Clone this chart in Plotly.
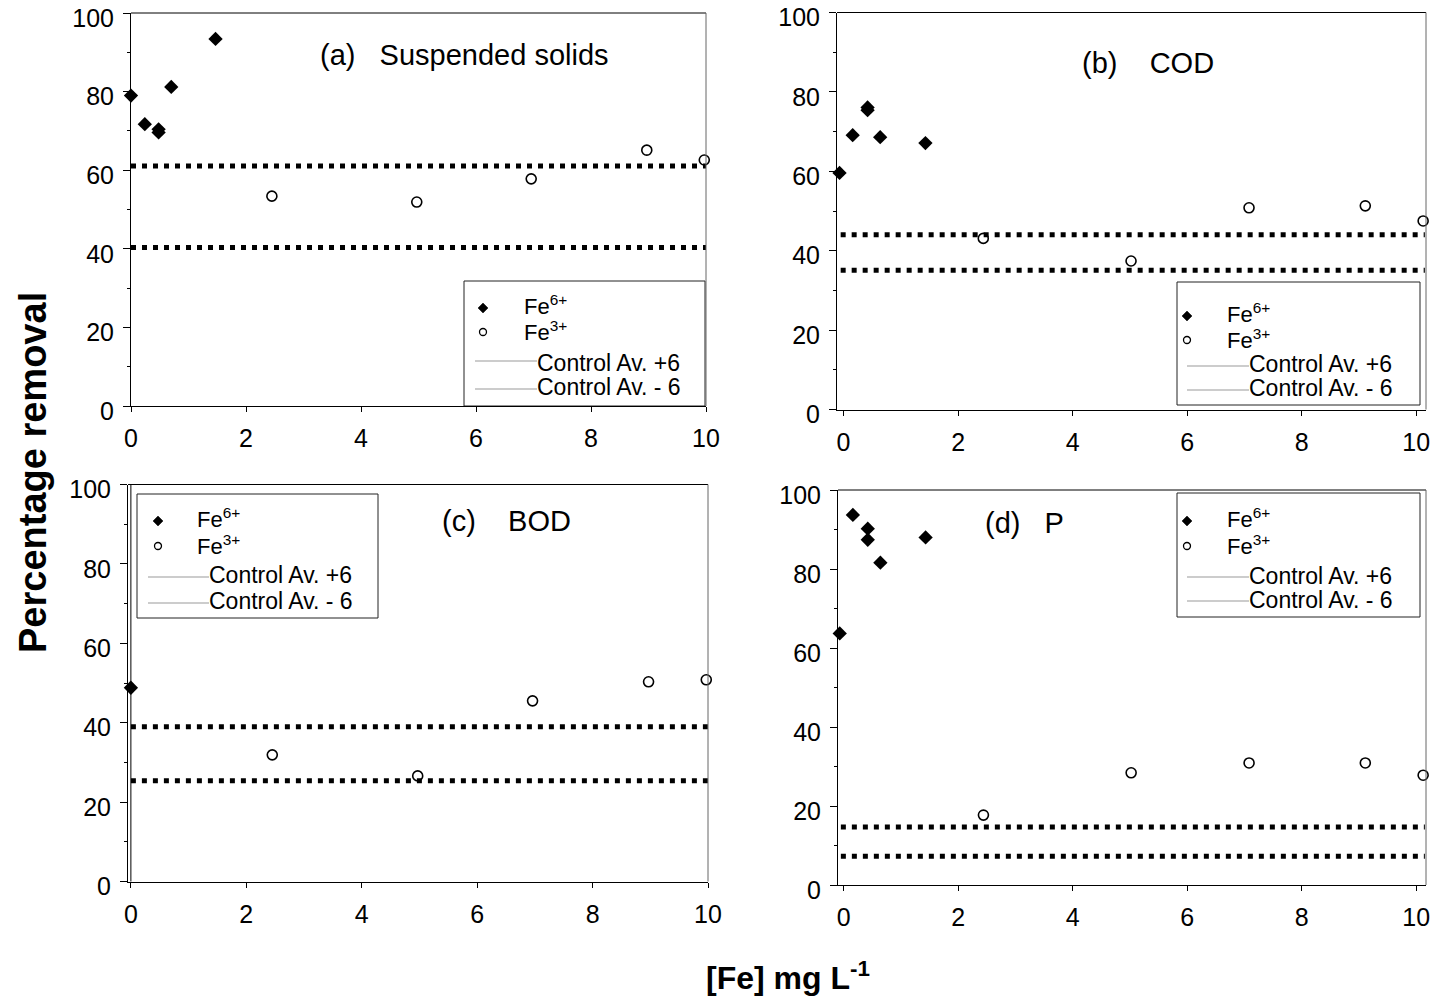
import plotly.graph_objects as go

W, H = 1433, 997
FONT = "Liberation Sans, Arial, Helvetica, sans-serif"

# ---------------- data ----------------
# x positions as read on panels (a),(c) and on panels (b),(d)
fe6_x_ac = [0, 0.24, 0.48, 0.48, 0.7, 1.47]
fe3_x_ac = [2.45, 4.97, 6.96, 8.97, 9.97]
fe6_x_bd = [-0.07, 0.16, 0.42, 0.42, 0.64, 1.43]
fe3_x_bd = [2.44, 5.02, 7.08, 9.11, 10.12]
ctrl_x_ac = [0, 10]
ctrl_x_bd = [-0.05, 10.15]

ss_fe6 = [79.0, 71.7, 70.4, 69.6, 81.2, 93.4]
ss_fe3 = [53.4, 51.9, 57.8, 65.1, 62.6]
ss_ctrl = [61.1, 40.3]

cod_fe6 = [59.6, 69.1, 76.1, 75.4, 68.6, 67.1]
cod_fe3 = [43.1, 37.4, 50.8, 51.3, 47.5]
cod_ctrl = [44.0, 35.1]

bod_fe6 = [48.8, None, None, None, None, None]
bod_fe3 = [31.9, 26.6, 45.5, 50.3, 50.8]
bod_ctrl = [39.0, 25.4]

p_fe6 = [63.7, 93.7, 90.2, 87.4, 81.6, 88.0]
p_fe3 = [17.7, 28.4, 30.9, 30.9, 27.8]
p_ctrl = [14.7, 7.3]

panel_titles = ["(a)\u00a0\u00a0\u00a0Suspended solids", "(b)\u00a0\u00a0\u00a0\u00a0COD",
                "(c)\u00a0\u00a0\u00a0\u00a0BOD", "(d)\u00a0\u00a0\u00a0P"]
legend_labels = ["Fe<sup>6+</sup>", "Fe<sup>3+</sup>", "Control Av. +6", "Control Av. - 6"]
x_ticks = [0, 2, 4, 6, 8, 10]
y_ticks = [0, 20, 40, 60, 80, 100]

series = [
    (fe6_x_ac, ss_fe6, fe3_x_ac, ss_fe3, ctrl_x_ac, ss_ctrl),
    (fe6_x_bd, cod_fe6, fe3_x_bd, cod_fe3, ctrl_x_bd, cod_ctrl),
    (fe6_x_ac, bod_fe6, fe3_x_ac, bod_fe3, ctrl_x_ac, bod_ctrl),
    (fe6_x_bd, p_fe6, fe3_x_bd, p_fe3, ctrl_x_bd, p_ctrl),
]

# ---------------- layout helpers (pixel -> paper) ----------------
def px(x):
    return x / W

def py(y):
    return 1 - y / H

# plot-area boxes in pixels: (left, right, top, bottom)
boxes = [(131, 706, 13, 406), (837, 1426, 12.5, 409.5),
         (128, 708, 484.5, 881.5), (838, 1426, 490, 885)]
xranges = [[0, 10], [-0.114, 10.17], [-0.05, 10], [-0.1, 10.17]]

fig = go.Figure()
layout = dict(
    width=W, height=H, margin=dict(l=0, r=0, t=0, b=0, autoexpand=False),
    paper_bgcolor="white", plot_bgcolor="white", showlegend=False,
    font=dict(family=FONT, color="black"),
)
shapes = []
annotations = []

for i, (x6, fe6, x3, fe3, cx_, ctrl) in enumerate(series):
    n = "" if i == 0 else str(i + 1)
    xa, ya = "x" + n, "y" + n
    l, r, t, b = boxes[i]
    layout["xaxis" + n] = dict(
        domain=[px(l), px(r)], range=xranges[i], anchor=ya,
        tickvals=x_ticks, ticks="outside", ticklen=5, tickcolor="black",
        showline=True, linecolor="black", linewidth=1, showgrid=False, zeroline=False,
        tickfont=dict(size=25, family=FONT), ticklabelstandoff=5,
        ticklabeloverflow="allow",
    )
    layout["yaxis" + n] = dict(
        domain=[py(b), py(t)], range=[0, 100], anchor=xa,
        tickvals=y_ticks, ticks="outside", ticklen=7, tickcolor="black",
        minor=dict(dtick=10, ticks="outside", ticklen=3, tickcolor="black"),
        showline=True, linecolor="black", linewidth=1, showgrid=False, zeroline=False,
        tickfont=dict(size=25, family=FONT), ticklabelstandoff=4,
        ticklabeloverflow="allow", ticklabelshift=5,
    )
    # top/right frame
    shapes.append(dict(type="line", xref=xa + " domain", yref=ya + " domain",
                       x0=0, x1=1, y0=1, y1=1, line=dict(color="black", width=1)))
    shapes.append(dict(type="line", xref=xa + " domain", yref=ya + " domain",
                       x0=1, x1=1, y0=0, y1=1, line=dict(color="#666", width=1)))

    for v in ctrl:
        fig.add_trace(go.Scatter(x=cx_, y=[v, v], mode="lines", xaxis=xa, yaxis=ya,
                                 line=dict(color="black", width=5, dash="5px,6px"),
                                 hoverinfo="skip"))
    fig.add_trace(go.Scatter(x=x6, y=fe6, mode="markers", xaxis=xa, yaxis=ya,
                             marker=dict(symbol="diamond", size=11, color="black"),
                             cliponaxis=False))
    fig.add_trace(go.Scatter(x=x3, y=fe3, mode="markers", xaxis=xa, yaxis=ya,
                             marker=dict(symbol="circle-open", size=10, color="black",
                                         line=dict(width=1.6)),
                             cliponaxis=False))

# double line at left of panel (c)
shapes.append(dict(type="line", xref="x3", yref="y3 domain", x0=0, x1=0,
                   y0=0, y1=1, line=dict(color="black", width=1)))

# ---------------- panel titles ----------------
title_pos = [(318, 55), (1080, 63), (440, 521), (983, 523)]
for (x, y), txt in zip(title_pos, panel_titles):
    annotations.append(dict(text=txt, x=px(x), y=py(y), xref="paper", yref="paper",
                            xanchor="left", yanchor="middle", showarrow=False,
                            font=dict(size=29, family=FONT)))

# ---------------- custom legends ----------------
# (box l, r, t, b), marker x, fe text x, line x0, control text x, row ys (fe6, fe3, +, -), line ys
legends = [
    ((464, 705, 281, 406), 483, 522, 475, 535, (305, 331, 363, 387), (361, 389)),
    ((1177, 1420, 282, 405), 1187, 1225, 1187, 1247, (313, 339, 364, 388), (366, 390)),
    ((137, 378, 494, 618), 158, 195, 148, 207, (518, 545, 575, 601), (577, 603)),
    ((1177, 1420, 493, 617), 1187, 1225, 1187, 1247, (518, 545, 576, 600), (577, 601)),
]
for (bl, br, bt, bb), mx, fx, lx0, cx, rows, lys in legends:
    shapes.append(dict(type="rect", xref="paper", yref="paper", x0=px(bl), x1=px(br),
                       y0=py(bb), y1=py(bt), line=dict(color="#222", width=1),
                       fillcolor="white", layer="below"))
    # diamond marker
    shapes.append(dict(type="path", xref="paper", yref="paper", xsizemode="pixel",
                       ysizemode="pixel", xanchor=px(mx), yanchor=py(rows[0] + 3),
                       path="M 0 5 L 5 0 L 0 -5 L -5 0 Z", fillcolor="black",
                       line=dict(color="black", width=0.5)))
    # circle marker
    shapes.append(dict(type="circle", xref="paper", yref="paper", xsizemode="pixel",
                       ysizemode="pixel", xanchor=px(mx), yanchor=py(rows[1] + 1),
                       x0=-3.5, x1=3.5, y0=-3.5, y1=3.5, line=dict(color="black", width=1.3)))
    for ly in lys:
        shapes.append(dict(type="line", xref="paper", yref="paper", x0=px(lx0), x1=px(cx + 2),
                           y0=py(ly), y1=py(ly), line=dict(color="#999", width=1)))
    for k, lab in enumerate(legend_labels):
        annotations.append(dict(text=lab, x=px(fx if k < 2 else cx), y=py(rows[k]),
                                xref="paper", yref="paper", xanchor="left", yanchor="middle",
                                showarrow=False, font=dict(size=22 if k < 2 else 23, family=FONT)))

# ---------------- axis titles ----------------
annotations.append(dict(text="<b>Percentage removal</b>", x=px(33), y=py(473), xref="paper",
                        yref="paper", textangle=-90, showarrow=False,
                        xanchor="center", yanchor="middle",
                        font=dict(size=38, family=FONT)))
annotations.append(dict(text="<b>[Fe] mg L<sup>-1</sup></b>", x=px(788), y=py(976), xref="paper",
                        yref="paper", showarrow=False, xanchor="center", yanchor="middle",
                        font=dict(size=32, family=FONT)))

layout["shapes"] = shapes
layout["annotations"] = annotations
fig.update_layout(**layout)
fig.write_html("out.html")
